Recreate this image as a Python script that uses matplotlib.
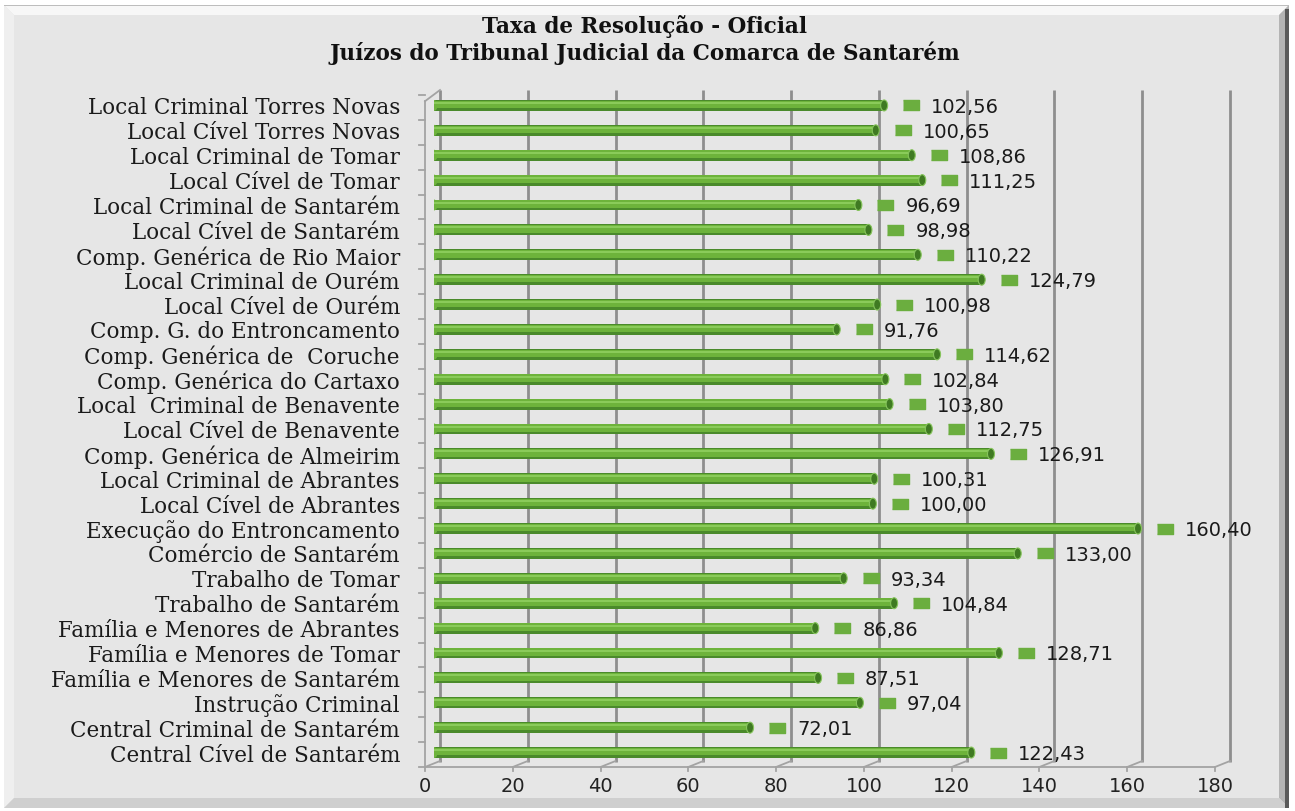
import matplotlib
matplotlib.use("Agg")
import matplotlib.pyplot as plt
import matplotlib.transforms as mtransforms
from matplotlib.patches import Ellipse, Rectangle, Polygon

# data, top to bottom as in the chart
juizos = ["Local Criminal Torres Novas", "Local Cível Torres Novas",
          "Local Criminal de Tomar", "Local Cível de Tomar",
          "Local Criminal de Santarém", "Local Cível de Santarém",
          "Comp. Genérica de Rio Maior", "Local Criminal de Ourém",
          "Local Cível de Ourém", "Comp. G. do Entroncamento",
          "Comp. Genérica de  Coruche", "Comp. Genérica do Cartaxo",
          "Local  Criminal de Benavente", "Local Cível de Benavente",
          "Comp. Genérica de Almeirim", "Local Criminal de Abrantes",
          "Local Cível de Abrantes", "Execução do Entroncamento",
          "Comércio de Santarém", "Trabalho de Tomar", "Trabalho de Santarém",
          "Família e Menores de Abrantes", "Família e Menores de Tomar",
          "Família e Menores de Santarém", "Instrução Criminal",
          "Central Criminal de Santarém", "Central Cível de Santarém"]
taxa = [102.56, 100.65, 108.86, 111.25, 96.69, 98.98, 110.22, 124.79, 100.98,
        91.76, 114.62, 102.84, 103.80, 112.75, 126.91, 100.31, 100.00, 160.40,
        133.00, 93.34, 104.84, 86.86, 128.71, 87.51, 97.04, 72.01, 122.43]
xticks = [0, 20, 40, 60, 80, 100, 120, 140, 160, 180]
titulo1 = "Taxa de Resolução - Oficial"
titulo2 = "Juízos do Tribunal Judicial da Comarca de Santarém"

W, H = 1295, 812
fig = plt.figure(figsize=(W / 100, H / 100), dpi=100)
fig.patch.set_facecolor("white")
IDT = mtransforms.IdentityTransform()


def fx(px):
    return px / W


def fy(py):
    return 1 - py / H


# panel with bevel (behind the axes)
ft = fig.transFigure
o_l, o_t, o_r, o_b = 4, 6, 1289, 809
bw = 10
fig.patches.append(Rectangle((fx(o_l), fy(o_b)), fx(o_r - o_l), (o_b - o_t) / H,
                             transform=ft, facecolor="#E6E6E6", edgecolor="none", zorder=-3))
bevels = [
    ([(o_l, o_t), (o_r, o_t), (o_r - bw, o_t + bw), (o_l + bw, o_t + bw)], "#F7F7F7"),
    ([(o_l, o_t), (o_l + bw, o_t + bw), (o_l + bw, o_b - bw), (o_l, o_b)], "#EFEFEF"),
    ([(o_r, o_t), (o_r, o_b), (o_r - bw, o_b - bw), (o_r - bw, o_t + bw)], "#B4B4B4"),
    ([(o_l, o_b), (o_r, o_b), (o_r - bw, o_b - bw), (o_l + bw, o_b - bw)], "#CFCFCF"),
]
for pts, c in bevels:
    fig.patches.append(Polygon([(fx(a), fy(b)) for a, b in pts], closed=True,
                               transform=ft, facecolor=c, edgecolor="none", zorder=-2))
fig.patches.append(Rectangle((fx(o_r - 4), fy(o_b)), fx(4), (o_b - o_t - 4) / H,
                             transform=ft, facecolor="#5A5A5A", edgecolor="none", zorder=-1))
fig.patches.append(Rectangle((fx(o_l), fy(o_t + 1)), fx(o_r - o_l), 1.5 / H,
                             transform=ft, facecolor="#BDBDBD", edgecolor="none", zorder=-1))

fig.text(fx(645), fy(27), titulo1, ha="center", va="center", fontsize=15.5,
         fontweight="bold", family="DejaVu Serif", color="#111111")
fig.text(fx(645), fy(53), titulo2, ha="center", va="center", fontsize=15.5,
         fontweight="bold", family="DejaVu Serif", color="#111111")

# back wall of the 3d plot area
ax = fig.add_axes([fx(434), fy(766), fx(790), 672 / H])
ax.set_facecolor("none")
for s in ax.spines.values():
    s.set_visible(False)
ax.set_xticks([])
ax.set_yticks([])
n = len(juizos)
ax.set_xlim(0, 180)
ax.set_ylim(n - 0.5, -0.5)

bl = ax.get_xaxis_transform()
back = mtransforms.offset_copy(bl, fig=fig, x=6, y=4, units="dots")
back_top = mtransforms.offset_copy(bl, fig=fig, x=6, y=3, units="dots")
front = mtransforms.offset_copy(bl, fig=fig, x=-9, y=-2, units="dots")
tick = mtransforms.offset_copy(bl, fig=fig, x=-9, y=-6, units="dots")
lab = mtransforms.offset_copy(bl, fig=fig, x=-9, y=-21, units="dots")
grid_c = "#8E8E8E"
floor_c = "#A3A3A3"

for v in xticks:
    ax.plot([v, v], [0, 1.0], transform=back_top, color=grid_c, lw=2, zorder=1,
            solid_capstyle="butt", clip_on=False)
    p0 = front.transform((v, 0))
    p1 = back.transform((v, 0))
    q = tick.transform((v, 0))
    ax.plot([p0[0], p1[0]], [p0[1], p1[1]], transform=IDT, color=floor_c, lw=1.3,
            zorder=1, clip_on=False)
    ax.plot([p0[0], q[0]], [p0[1], q[1]], transform=IDT, color=floor_c, lw=1.3,
            zorder=1, clip_on=False)
    ax.text(v, 0, str(v), transform=lab, ha="center", va="center", fontsize=14,
            family="DejaVu Sans", color="#222222")

ax.plot([0, 180], [0, 0], transform=front, color=floor_c, lw=1.3, zorder=1, clip_on=False)

# left wall
lfront = mtransforms.offset_copy(ax.transData, fig=fig, x=-9, y=-2, units="dots")
ax.plot([0, 0], [n - 0.5, -0.25], transform=lfront, color=floor_c, lw=1.3, clip_on=False)
a0 = lfront.transform((0, -0.25))
a1 = back_top.transform((0, 1.0))
ax.plot([a0[0], a1[0]], [a0[1], a1[1]], transform=IDT, color=floor_c, lw=1.3, clip_on=False)
for k in range(n + 1):
    b0 = lfront.transform((0, k - 0.5))
    ax.plot([b0[0] - 6, b0[0]], [b0[1], b0[1]], transform=IDT, color=floor_c, lw=1.3,
            clip_on=False)

# bars as green cylinders
ys = list(range(n))
ax.barh(ys, taxa, height=0.44, color="#4A8A2B", zorder=3)
ax.barh([y - 0.04 for y in ys], taxa, height=0.3, color="#6DB33B", zorder=4)
ax.barh([y - 0.1 for y in ys], taxa, height=0.08, color="#8ACB5A", zorder=5)
cap_w = 7 * 180 / 790
for y, v in zip(ys, taxa):
    ax.add_patch(Ellipse((0, y), cap_w, 0.44, facecolor="#6FB33F", edgecolor="none", zorder=3))
    ax.add_patch(Ellipse((v, y), cap_w, 0.44, facecolor="#3F7A22", edgecolor="#86C45C",
                         lw=0.8, zorder=6))

# data labels with legend key
key = [(-1.6, -1), (1.6, -1), (1.6, 1), (-1.6, 1)]
mk = mtransforms.offset_copy(ax.transData, fig=fig, x=27, y=0, units="dots")
ax.plot(taxa, ys, transform=mk, marker=key, markersize=11, color="#6BAE3F",
        linestyle="none", zorder=6, clip_on=False)
for y, v in zip(ys, taxa):
    ax.annotate(f"{v:.2f}".replace(".", ","), xy=(v, y), xytext=(47, -1),
                textcoords="offset pixels", ha="left", va="center", fontsize=14,
                family="DejaVu Sans", color="#1A1A1A", annotation_clip=False)

# category labels
for y, name in zip(ys, juizos):
    ax.annotate(name, xy=(0, y), xytext=(-34, -2), textcoords="offset pixels",
                ha="right", va="center", fontsize=15.5, family="DejaVu Serif",
                color="#1A1A1A", annotation_clip=False)

fig.savefig("out.png", dpi=100, facecolor=fig.get_facecolor())
